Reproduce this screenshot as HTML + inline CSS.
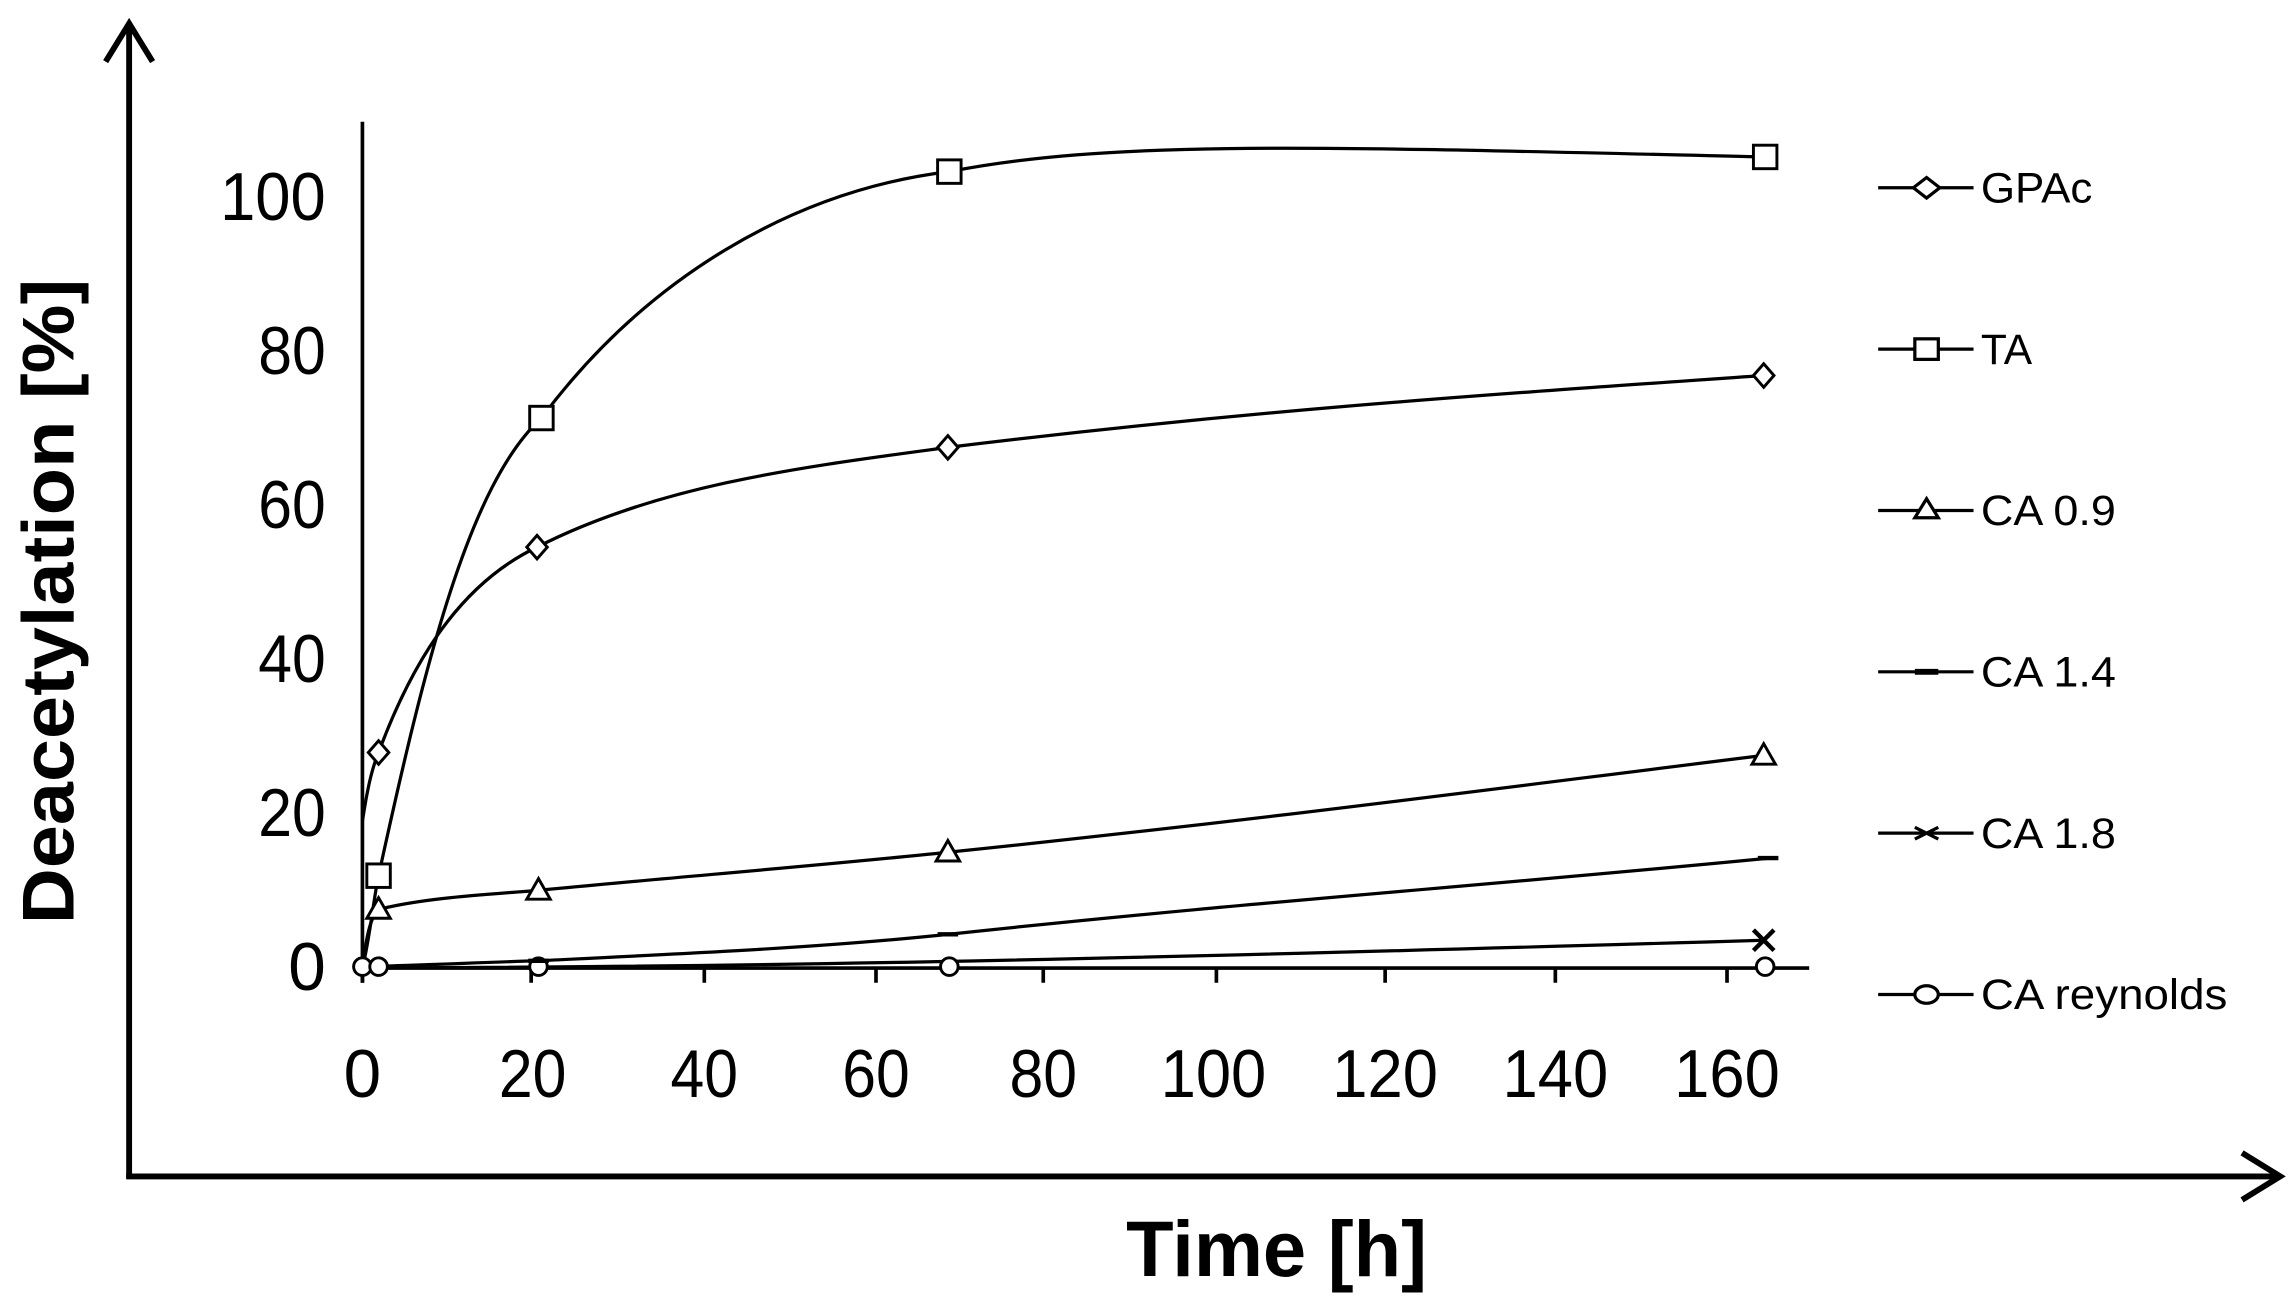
<!DOCTYPE html>
<html><head><meta charset="utf-8"><style>html,body{margin:0;padding:0;background:#fff}svg{display:block}</style></head>
<body>
<svg width="2289" height="1304" viewBox="0 0 1560 889" preserveAspectRatio="none" xmlns="http://www.w3.org/2000/svg" font-family="'Liberation Sans', sans-serif">
<rect width="1560" height="889" fill="#fff"/>
<g stroke="#000" fill="none" stroke-width="4">
<line x1="88" y1="803" x2="88" y2="18"/>
<polyline points="72,42 88,16 104,42"/>
<line x1="86" y1="802" x2="1552" y2="802"/>
<polyline points="1528,786 1554,802 1528,818"/>
</g>
<g stroke="#000" stroke-width="2.5" fill="none">
<line x1="247" y1="83" x2="247" y2="670"/>
<line x1="247" y1="660" x2="1233" y2="660"/>
<line x1="247" y1="660" x2="247" y2="670"/>
<line x1="362" y1="660" x2="362" y2="670"/>
<line x1="480" y1="660" x2="480" y2="670"/>
<line x1="597" y1="660" x2="597" y2="670"/>
<line x1="711" y1="660" x2="711" y2="670"/>
<line x1="829" y1="660" x2="829" y2="670"/>
<line x1="944" y1="660" x2="944" y2="670"/>
<line x1="1060" y1="660" x2="1060" y2="670"/>
<line x1="1177" y1="660" x2="1177" y2="670"/>
</g>
<g font-size="46" text-anchor="end" fill="#000" lengthAdjust="spacingAndGlyphs">
<text x="222" y="675">0</text><text x="222" y="570" textLength="46" lengthAdjust="spacingAndGlyphs">20</text><text x="222" y="465" textLength="46" lengthAdjust="spacingAndGlyphs">40</text>
<text x="222" y="360" textLength="46" lengthAdjust="spacingAndGlyphs">60</text><text x="222" y="255" textLength="46" lengthAdjust="spacingAndGlyphs">80</text><text x="222" y="150" textLength="72" lengthAdjust="spacingAndGlyphs">100</text>
</g>
<g font-size="46" text-anchor="middle" fill="#000">
<text x="247" y="748">0</text><text x="363" y="748" textLength="46" lengthAdjust="spacingAndGlyphs">20</text><text x="480" y="748" textLength="46" lengthAdjust="spacingAndGlyphs">40</text>
<text x="597" y="748" textLength="46" lengthAdjust="spacingAndGlyphs">60</text><text x="711" y="748" textLength="46" lengthAdjust="spacingAndGlyphs">80</text><text x="827" y="748" textLength="72" lengthAdjust="spacingAndGlyphs">100</text>
<text x="944" y="748" textLength="72" lengthAdjust="spacingAndGlyphs">120</text><text x="1060" y="748" textLength="72" lengthAdjust="spacingAndGlyphs">140</text><text x="1177" y="748" textLength="72" lengthAdjust="spacingAndGlyphs">160</text>
</g>
<text transform="translate(50,410) rotate(-90)" font-size="50" font-weight="bold" text-anchor="middle" textLength="440" lengthAdjust="spacingAndGlyphs">Deacetylation  [%]</text>
<text x="870" y="870" font-size="54" font-weight="bold" text-anchor="middle" textLength="205" lengthAdjust="spacingAndGlyphs">Time [h]</text>
<g stroke="#000" stroke-width="2.2" fill="none">
<path d="M247,660 C252,640 255,610 258,597 C290,450 320,330 369,285 C440,190 540,130 647,117 C760,95 900,100 1203,107"/>
<path d="M247,560 C250,540 253,525 258,513 C285,440 320,395 366,373 C450,330 550,318 646,305 C850,280 1000,270 1202,256"/>
<path d="M247,660 C250,635 253,625 258,620 C290,612 330,610 367,607 C460,598 560,590 646,581 C850,560 1000,540 1202,515"/>
<path d="M247,659 C290,658 330,656 367,655 C470,650 560,646 646,637 C850,615 1000,605 1206,585"/>
<path d="M247,660 C500,659 700,656 1202,641"/>
</g>
<g stroke="#000" stroke-width="2" fill="#fff">
<rect x="250" y="589" width="16" height="16"/><rect x="361" y="277" width="16" height="16"/>
<rect x="639" y="109" width="16" height="16"/><rect x="1195" y="99" width="16" height="16"/>
<path d="M258,505 l7,8 l-7,8 l-7,-8z"/><path d="M366,365 l7,8 l-7,8 l-7,-8z"/>
<path d="M646,297 l7,8 l-7,8 l-7,-8z"/><path d="M1202,248 l7,8 l-7,8 l-7,-8z"/>
<path d="M258,612 l8,14 h-16z"/><path d="M367,599 l8,14 h-16z"/><path d="M646,573 l8,14 h-16z"/><path d="M1202,507 l8,14 h-16z"/>
<circle cx="247" cy="659" r="6"/><circle cx="258" cy="659" r="6"/><circle cx="367" cy="659" r="6"/>
<circle cx="647" cy="659" r="6"/><circle cx="1203" cy="659" r="6"/>
</g>
<g stroke="#000" stroke-width="3">
<line x1="360" y1="655" x2="374" y2="655"/><line x1="639" y1="637" x2="653" y2="637"/><line x1="1198" y1="585" x2="1212" y2="585"/>
<line x1="1195" y1="634" x2="1209" y2="648"/><line x1="1195" y1="648" x2="1209" y2="634"/>
</g>
<g stroke="#000" stroke-width="2.2" fill="#fff">
<line x1="1280" y1="128" x2="1345" y2="128"/><line x1="1280" y1="238" x2="1345" y2="238"/>
<line x1="1280" y1="348" x2="1345" y2="348"/><line x1="1280" y1="458" x2="1345" y2="458"/>
<line x1="1280" y1="568" x2="1345" y2="568"/><line x1="1280" y1="678" x2="1345" y2="678"/>
<path d="M1313,121 l9,7 l-9,7 l-9,-7z"/>
<rect x="1305" y="231" width="16" height="14"/>
<path d="M1313,340 l8,13 h-16z"/>
<line x1="1305" y1="572" x2="1321" y2="564"/><line x1="1305" y1="564" x2="1321" y2="572"/>
<ellipse cx="1313" cy="678" rx="8" ry="6"/>
</g>
<line x1="1305" y1="458" x2="1321" y2="458" stroke="#000" stroke-width="4"/>
<g font-size="29" fill="#000">
<text x="1350" y="138" textLength="76" lengthAdjust="spacingAndGlyphs">GPAc</text><text x="1350" y="248">TA</text><text x="1350" y="358" textLength="92" lengthAdjust="spacingAndGlyphs">CA 0.9</text>
<text x="1350" y="468" textLength="92" lengthAdjust="spacingAndGlyphs">CA 1.4</text><text x="1350" y="578" textLength="92" lengthAdjust="spacingAndGlyphs">CA 1.8</text><text x="1350" y="688" textLength="168" lengthAdjust="spacingAndGlyphs">CA reynolds</text>
</g>
</svg>
</body></html>
